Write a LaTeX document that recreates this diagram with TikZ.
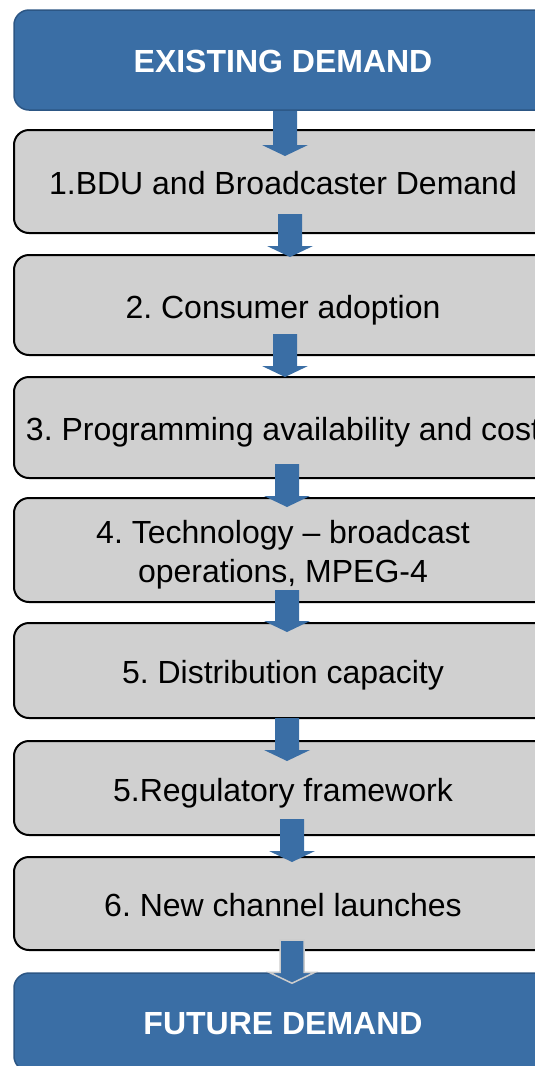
\documentclass[tikz,border=0pt]{standalone}
\usepackage{fontspec}
\setmainfont{Liberation Sans}
\usetikzlibrary{calc}
\frenchspacing

\definecolor{demandblue}{RGB}{58,110,165}
\definecolor{demandedge}{RGB}{44,86,132}
\definecolor{stepgrey}{RGB}{208,208,208}

\tikzset{
  bluebox/.style={rectangle, rounded corners=15pt, draw=demandedge, line width=1.5pt, fill=demandblue,
    minimum width=538pt, inner sep=0pt, text=white, text height=30pt, text depth=6pt,
    font=\fontsize{32}{38}\selectfont\bfseries},
  greybox/.style={rectangle, rounded corners=15pt, draw=black, line width=2pt, fill=stepgrey,
    minimum width=538pt, inner sep=0pt, align=center, text height=30pt, text depth=4pt,
    font=\fontsize{32}{39}\selectfont},
  blockarrow/.style={fill=demandblue, draw=none}
}

% block arrow: #2 = start of shaft, #3 = tip
\newcommand{\flowarrow}[3][]{%
  \draw[blockarrow,#1] ($(#2)+(-12,0)$) -- ($(#3)+(-12,11)$) -- ($(#3)+(-23,11)$) -- (#3)
    -- ($(#3)+(23,11)$) -- ($(#3)+(12,11)$) -- ($(#2)+(12,0)$) -- cycle;}

\begin{document}
\begin{tikzpicture}[x=1pt, y=1pt]
  \useasboundingbox (0,0) rectangle (535,-1066);
  \clip (0,0) rectangle (535,-1066);

  \node[bluebox, minimum height=100pt] (existing) at (283,-60) {EXISTING DEMAND};
  \node[greybox, minimum height=103pt] (bdu) at (283,-181.5) {1.BDU and Broadcaster Demand};
  \node[greybox, minimum height=100pt] (consumer) at (283,-305) {2. Consumer adoption};
  \node[greybox, minimum height=101pt] (programming) at (283,-427.5) {3. Programming availability and cost};
  \node[greybox, minimum height=104pt, text height=69pt] (technology) at (283,-550) {4. Technology -- broadcast\\operations, MPEG-4};
  \node[greybox, minimum height=95pt] (capacity) at (283,-670.5) {5. Distribution capacity};
  \node[greybox, minimum height=94pt] (regulatory) at (283,-788) {5.Regulatory framework};
  \node[greybox, minimum height=93pt] (launches) at (283,-903.5) {6. New channel launches};
  \node[bluebox, minimum height=98pt] (future) at (283,-1022) {FUTURE DEMAND};

  \flowarrow{$(existing.south)+(2,0)$}{$(bdu.north)+(2,-27)$}
  \flowarrow{$(bdu.south)+(7,20)$}{$(consumer.north)+(7,-3)$}
  \flowarrow{$(consumer.south)+(2,22)$}{$(programming.north)+(2,-1)$}
  \flowarrow{$(programming.south)+(4,15)$}{$(technology.north)+(4,-10)$}
  \flowarrow{$(technology.south)+(4,13)$}{$(capacity.north)+(4,-10)$}
  \flowarrow{$(capacity.south)+(4,1)$}{$(regulatory.north)+(4,-21)$}
  \flowarrow{$(regulatory.south)+(9,17)$}{$(launches.north)+(9,-6)$}
  \flowarrow[draw=black!20, line width=1.5pt]{$(launches.south)+(9,11)$}{$(future.north)+(9,-11)$}
\end{tikzpicture}
\end{document}
